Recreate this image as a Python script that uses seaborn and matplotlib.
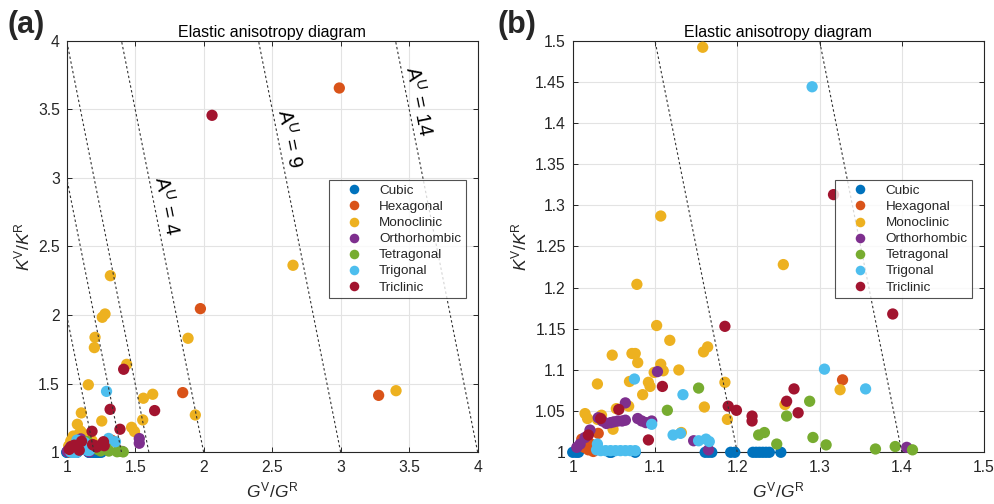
import numpy as np
import pandas as pd
import matplotlib
matplotlib.use("Agg")
import matplotlib.pyplot as plt
import seaborn as sns

# ---------------- data ----------------
classes = ["Cubic", "Hexagonal", "Monoclinic", "Orthorhombic", "Tetragonal", "Trigonal", "Triclinic"]
colors = ["#0072BD", "#D95319", "#EDB120", "#7E2F8E", "#77AC30", "#4DBEEE", "#A2142F"]

# points inside the zoom window [1,1.5]x[1,1.5] (shown in both panels)
cubic_G = [1.000, 1.004, 1.007, 1.045, 1.047, 1.076, 1.161, 1.165, 1.169, 1.192, 1.197,
           1.219, 1.223, 1.227, 1.231, 1.235, 1.239, 1.253]
cubic_K = [1.000] * 18
hexa_G = [1.328, 1.031, 1.011, 1.014, 1.019, 1.025, 1.022]
hexa_K = [1.088, 1.023, 1.016, 1.006, 1.003, 1.001, 1.010]
mono_G = [1.158, 1.107, 1.256, 1.078, 1.102, 1.118, 1.048, 1.072, 1.076, 1.079, 1.164, 1.159,
          1.107, 1.110, 1.099, 1.129, 1.030, 1.069, 1.092, 1.094, 1.085, 1.185, 1.160, 1.258,
          1.325, 1.015, 1.018, 1.188, 1.053, 1.068, 1.049, 1.132, 1.035, 1.030]
mono_K = [1.492, 1.287, 1.228, 1.204, 1.154, 1.136, 1.118, 1.120, 1.120, 1.109, 1.128, 1.122,
          1.107, 1.099, 1.097, 1.100, 1.083, 1.086, 1.085, 1.080, 1.070, 1.085, 1.055, 1.058,
          1.076, 1.047, 1.041, 1.040, 1.053, 1.056, 1.028, 1.024, 1.045, 1.040]
ortho_G = [1.103, 1.064, 1.031, 1.036, 1.041, 1.046, 1.050, 1.055, 1.060, 1.064, 1.079, 1.084,
           1.089, 1.096, 1.021, 1.015, 1.009, 1.005, 1.147, 1.165, 1.406]
ortho_K = [1.098, 1.060, 1.042, 1.038, 1.035, 1.036, 1.037, 1.038, 1.038, 1.039, 1.041, 1.038,
           1.036, 1.038, 1.027, 1.018, 1.010, 1.006, 1.014, 1.003, 1.006]
tetra_G = [1.153, 1.115, 1.288, 1.260, 1.226, 1.233, 1.248, 1.292, 1.308, 1.368, 1.392, 1.413]
tetra_K = [1.078, 1.051, 1.062, 1.044, 1.021, 1.024, 1.010, 1.018, 1.009, 1.004, 1.007, 1.003]
trig_G = [1.291, 1.306, 1.356, 1.075, 1.134, 1.096, 1.122, 1.131, 1.153, 1.162, 1.166, 1.030,
          1.029, 1.034, 1.040, 1.046, 1.052, 1.058, 1.064, 1.070, 1.076]
trig_K = [1.444, 1.101, 1.077, 1.089, 1.070, 1.034, 1.021, 1.023, 1.014, 1.016, 1.013, 1.010,
          1.003, 1.002, 1.002, 1.002, 1.002, 1.002, 1.002, 1.002, 1.002]
tric_G = [1.317, 1.389, 1.185, 1.109, 1.189, 1.199, 1.269, 1.260, 1.274, 1.218, 1.218, 1.056,
          1.034, 1.019, 1.092]
tric_K = [1.313, 1.168, 1.153, 1.080, 1.056, 1.051, 1.077, 1.062, 1.048, 1.044, 1.038, 1.052,
          1.041, 1.021, 1.015]

# points seen only in the full view (a)
hexa_G_out = [2.990, 1.976, 1.847, 3.277]
hexa_K_out = [3.655, 2.047, 1.435, 1.415]
mono_G_out = [2.652, 1.319, 1.260, 1.280, 1.207, 1.202, 1.886, 1.438, 1.628, 1.560, 3.404,
              1.939, 1.555, 1.474, 1.495]
mono_K_out = [2.363, 2.287, 1.984, 2.008, 1.838, 1.763, 1.831, 1.641, 1.423, 1.394, 1.449,
              1.272, 1.236, 1.182, 1.151]
ortho_G_out = [1.530, 1.530]
ortho_K_out = [1.100, 1.066]
tric_G_out = [2.061, 1.416, 1.642]
tric_K_out = [3.456, 1.605, 1.304]

# iso-anisotropy guide lines: G^V/G^R where each line meets K^V/K^R = 1
guide_G0 = [1.2, 1.4, 1.6, 2.0, 3.0, 4.0]
guide_labels = ["A$^{\\mathrm{U}}$ = 4", "A$^{\\mathrm{U}}$ = 9", "A$^{\\mathrm{U}}$ = 14"]
guide_label_pos = [(1.73, 2.80), (2.63, 3.29), (3.57, 3.56)]

# ---------------- frames ----------------
def frame(pairs):
    rows = []
    for cls, (g, k) in pairs:
        rows.append(pd.DataFrame({"G": g, "K": k, "System": cls}))
    df = pd.concat(rows, ignore_index=True)
    df["System"] = pd.Categorical(df["System"], categories=classes, ordered=True)
    return df.sort_values("System", kind="stable").reset_index(drop=True)

core = frame([
    ("Cubic", (cubic_G, cubic_K)), ("Hexagonal", (hexa_G, hexa_K)),
    ("Monoclinic", (mono_G, mono_K)), ("Orthorhombic", (ortho_G, ortho_K)),
    ("Tetragonal", (tetra_G, tetra_K)), ("Trigonal", (trig_G, trig_K)),
    ("Triclinic", (tric_G, tric_K)),
])
full = frame([
    ("Cubic", (cubic_G, cubic_K)),
    ("Hexagonal", (hexa_G + hexa_G_out, hexa_K + hexa_K_out)),
    ("Monoclinic", (mono_G + mono_G_out, mono_K + mono_K_out)),
    ("Orthorhombic", (ortho_G + ortho_G_out, ortho_K + ortho_K_out)),
    ("Tetragonal", (tetra_G, tetra_K)), ("Trigonal", (trig_G, trig_K)),
    ("Triclinic", (tric_G + tric_G_out, tric_K + tric_K_out)),
])

# ---------------- style ----------------
sns.set_style("white")
plt.rcParams["font.family"] = ["Liberation Sans", "DejaVu Sans"]
plt.rcParams["mathtext.fontset"] = "custom"
plt.rcParams["mathtext.rm"] = "Liberation Sans"
plt.rcParams["mathtext.it"] = "Liberation Sans:italic"
plt.rcParams["mathtext.bf"] = "Liberation Sans:bold"

palette = dict(zip(classes, colors))
dark = "#262626"

fig = plt.figure(figsize=(9.95, 5.04), dpi=100)
ax_a = fig.add_axes([0.0670, 0.1026, 0.4131, 0.8167])
ax_b = fig.add_axes([0.5756, 0.1026, 0.4134, 0.8167])

def style_axes(ax, xlim, ylim, xticks, yticks):
    ax.set_xlim(*xlim)
    ax.set_ylim(*ylim)
    ax.set_xticks(xticks)
    ax.set_yticks(yticks)
    ax.set_xticklabels([f"{v:g}" for v in xticks])
    ax.set_yticklabels([f"{v:g}" for v in yticks])
    ax.grid(True, color="#e3e3e3", linewidth=0.8)
    ax.set_axisbelow(True)
    for sp in ax.spines.values():
        sp.set_visible(True)
        sp.set_color(dark)
        sp.set_linewidth(0.8)
    ax.tick_params(direction="in", length=3.5, width=0.7, color=dark, labelcolor=dark,
                   labelsize=11.3, top=True, right=True, bottom=True, left=True)
    ax.tick_params(axis="x", pad=5.5)
    ax.tick_params(axis="y", pad=5)
    ax.set_xlabel(r"$G^{\mathrm{V}}/G^{\mathrm{R}}$", fontsize=12.5, color=dark, labelpad=4)
    ax.set_ylabel(r"$K^{\mathrm{V}}/K^{\mathrm{R}}$", fontsize=12.5, color=dark, labelpad=4)
    ax.set_title("Elastic anisotropy diagram", fontsize=11.5, color="black", pad=2.5)

def guides(ax):
    for g0 in guide_G0:
        gs = np.array([g0 - 0.8, g0])
        ks = 1 + 5 * (g0 - gs)
        ax.plot(gs, ks, linestyle=(0, (2.2, 2.2)), color="#333333", linewidth=0.8, zorder=4)

def legend(ax):
    leg = ax.get_legend()
    handles = leg.legend_handles
    labels = [t.get_text() for t in leg.get_texts()]
    leg.remove()
    lg = ax.legend(handles, labels, loc="upper right", bbox_to_anchor=(0.971, 0.6616),
                   fontsize=9.7, frameon=True, fancybox=False, edgecolor=dark,
                   borderpad=0.35, labelspacing=0.27, handlelength=3.1,
                   handletextpad=0.3, borderaxespad=0, markerscale=0.85)
    lg.get_frame().set_linewidth(0.8)
    lg.set_zorder(6)

# panel (a)
sns.scatterplot(data=full, x="G", y="K", hue="System", hue_order=classes, palette=palette,
                s=66, linewidth=0, alpha=1, ax=ax_a, zorder=3, clip_on=False)
style_axes(ax_a, (1, 4), (1, 4), [1, 1.5, 2, 2.5, 3, 3.5, 4], [1, 1.5, 2, 2.5, 3, 3.5, 4])
guides(ax_a)
legend(ax_a)
for txt, (gx, ky) in zip(guide_labels, guide_label_pos):
    ax_a.text(gx, ky, txt, rotation=-78.7, rotation_mode="anchor", ha="center", va="center",
              fontsize=14.5, color="black", zorder=5)

# panel (b)
sns.scatterplot(data=core, x="G", y="K", hue="System", hue_order=classes, palette=palette,
                s=66, linewidth=0, alpha=1, ax=ax_b, zorder=3, clip_on=False)
style_axes(ax_b, (1, 1.5), (1, 1.5), [1, 1.1, 1.2, 1.3, 1.4, 1.5],
           [1, 1.05, 1.1, 1.15, 1.2, 1.25, 1.3, 1.35, 1.4, 1.45, 1.5])
guides(ax_b)
legend(ax_b)

fig.text(0.008, 0.951, "(a)", fontsize=22, fontweight="bold", va="center", ha="left")
fig.text(0.500, 0.951, "(b)", fontsize=22, fontweight="bold", va="center", ha="left")

fig.savefig("out.png", dpi=100)
